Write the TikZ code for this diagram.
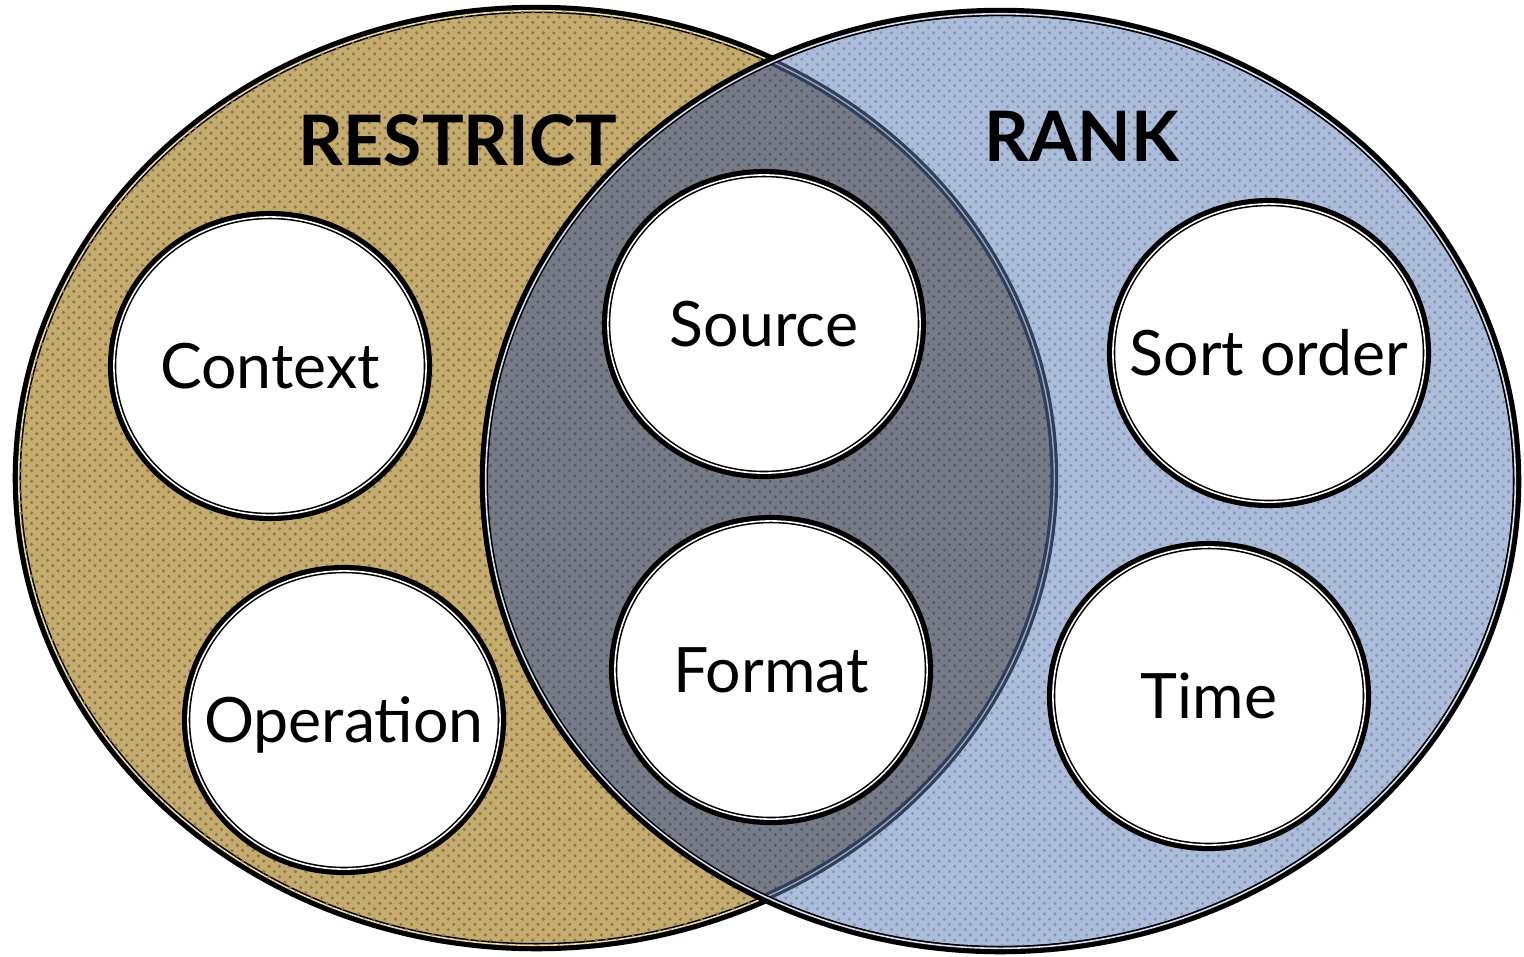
\documentclass[tikz,border=0pt]{standalone}
\usepackage{fontspec}
\setmainfont{Lato}
\usetikzlibrary{shapes.geometric,patterns}
\definecolor{burlap}{HTML}{C6AB6E}
\definecolor{burlaplight}{HTML}{EADBA8}
\definecolor{linen}{HTML}{ABBDDB}
\definecolor{linenlight}{HTML}{D8E2F3}
\definecolor{overlap}{HTML}{767B87}
\definecolor{seam}{HTML}{2F3E5C}
\tikzset{rim/.style={preaction={draw=black, line width=3.4pt}, draw=black,
                     line width=0.45pt, double=#1, double distance=0.45pt}}
\tikzset{weave/.style={postaction={pattern=crosshatch dots, pattern color=#1}}}
\tikzset{bubble/.style={ellipse, rim=white, fill=white, inner xsep=-2cm, inner ysep=0pt,
                        minimum width=3.12cm, minimum height=2.98cm,
                        text height=12.8pt, text depth=0pt,
                        font=\fontsize{17.8}{20}\selectfont}}

\begin{document}
\begin{tikzpicture}[
  x=0.01cm, y=-0.01cm,
  title/.style={font=\fontsize{19.8}{22}\selectfont\bfseries, inner sep=0pt}
]
  \useasboundingbox (0,0) rectangle (1524,956);

  % the two sets
  \path[rim=burlaplight, fill=burlap, weave=burlap!70!black] (536.5,478) ellipse [x radius=5.175cm, y radius=4.67cm];
  \path[rim=linenlight, fill=linen, weave=linen!80!black] (1000.5,481) ellipse [x radius=5.145cm, y radius=4.67cm];

  % common part
  \begin{scope}
    \clip (1000.5,481) ellipse [x radius=5.145cm, y radius=4.67cm];
    \fill[overlap, weave=overlap!75!black] (536.5,478) ellipse [x radius=5.175cm, y radius=4.67cm];
    \draw[seam, line width=0.9pt, double=overlap!60!linenlight, double distance=0.4pt]
      (536.5,478) ellipse [x radius=5.175cm, y radius=4.67cm];
  \end{scope}
  \draw[black, line width=0.45pt, double=linenlight, double distance=0.45pt]
    (1000.5,481) ellipse [x radius=5.145cm, y radius=4.67cm];

  \node[title] (restrict) at (458,140) {RESTRICT};
  \node[title] (rank) at (1082,136) {RANK};

  \node[bubble] (context) at (270,366) {Context};
  \node[bubble] (operation) at (344,720) {Operation};
  \node[bubble] (source) at (764,324) {Source};
  \node[bubble] (format) at (771,670) {Format};
  \node[bubble] (sortorder) at (1269,353) {Sort order};
  \node[bubble] (time) at (1209,696) {Time};
\end{tikzpicture}
\end{document}
